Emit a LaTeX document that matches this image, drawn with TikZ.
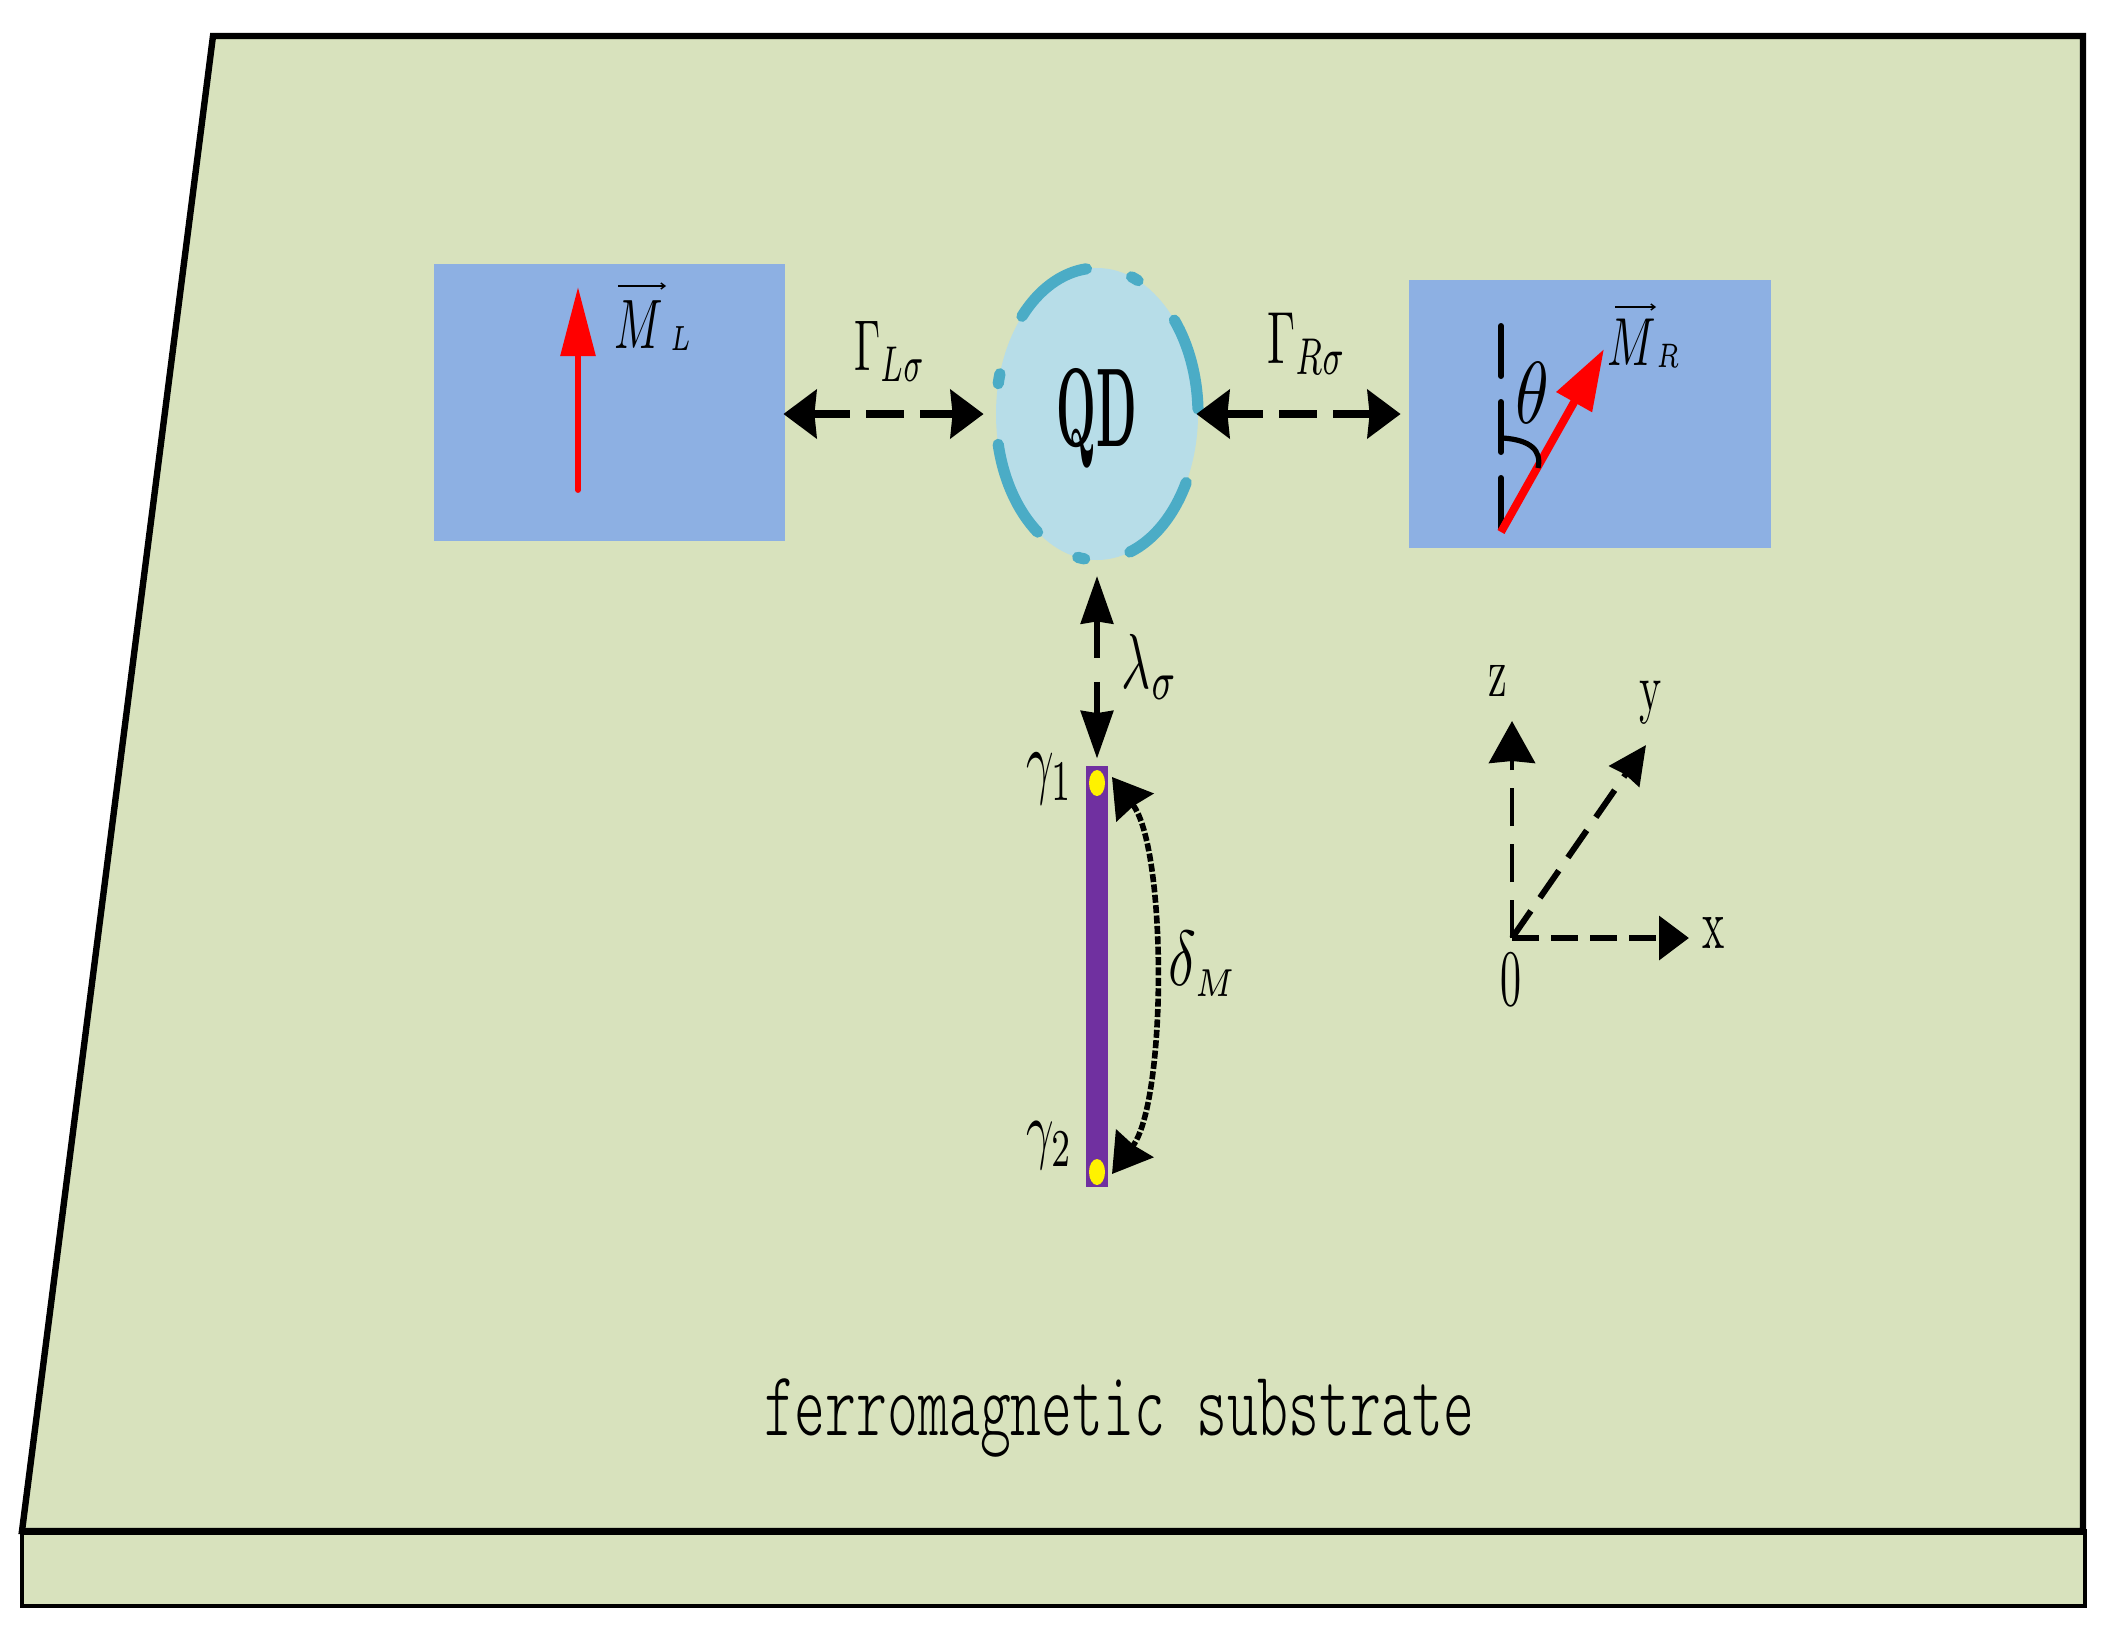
\documentclass[tikz,border=0pt]{standalone}
\usepackage{amsmath}
\usetikzlibrary{arrows.meta,shapes.geometric}
\definecolor{subgreen}{HTML}{D8E2BD}
\definecolor{leadblue}{HTML}{8DB0E3}
\definecolor{qdfill}{HTML}{B7DDE8}
\definecolor{qdring}{HTML}{4BACC6}
\definecolor{barpurple}{HTML}{7030A0}
\newcommand{\lbl}[3]{\scalebox{#1}[#2]{#3}}
\tikzset{
  lbltext/.style={inner sep=0pt,outer sep=0pt,text=black},
  leadbox/.style={rectangle,fill=leadblue,inner sep=0pt},
  ringseg/.style={draw=qdring,line width=5.6pt,line cap=round},
  bigdash/.style={line width=4pt,dash pattern=on 19pt off 8pt,{Stealth[length=16.5pt,width=24pt,inset=1pt]}-{Stealth[length=16.5pt,width=24pt,inset=1pt]}},
  vecbar/.style={line width=0.7pt,-{Straight Barb[length=2pt,width=3pt]}},
  ymark/.style={fill=yellow,inner sep=0pt}
}
\begin{document}
\begin{tikzpicture}[x=0.5pt,y=-0.5pt]
\useasboundingbox (0,0) rectangle (2102,1633);
\fill[white] (0,0) rectangle (2102,1633);
% substrate
\draw[line width=3.2pt,fill=subgreen,line join=miter] (213,36) -- (2083,36) -- (2083,1531) -- (22,1531) -- cycle;
\draw[line width=2pt,fill=subgreen] (21.5,1531) rectangle (2084.5,1606);
\draw[line width=3.5pt] (21,1531.5) -- (2085,1531.5);
% leads
\node[leadbox,minimum width=175.75pt,minimum height=138.5pt] (lbox) at (609.25,402.5) {};
\node[leadbox,minimum width=181.25pt,minimum height=134pt] (rbox) at (1589.75,414) {};
% quantum dot
\node[ellipse,fill=qdfill,inner sep=0pt,minimum width=101pt,minimum height=146pt] (qd) at (1097,414) {};
\foreach \a/\b in {-138/-96,-70/-66,-40/-2,28/71,97/101,126/168,-168/-164}
  \draw[ringseg] ([shift={(\a:101 and 146)}]qd.center) arc[start angle=\a,end angle=\b,x radius=101,y radius=146];
\node[lbltext] (qdl) at (1097,418) {\lbl{2.3}{5.6}{\bfseries QD}};
% horizontal couplings
\draw[bigdash,shorten <=-1pt,shorten >=6pt] (lbox.east |- qd.west) -- (qd.west);
\draw[bigdash,shorten <=-1pt,shorten >=3.75pt] (qd.east) -- (rbox.west |- qd.east);
% left moment
\coordinate (mlfoot) at (578,490);
\coordinate (mlhead) at (578,287);
\draw[red,line width=2.9pt,line cap=round,-{Triangle[length=34.5pt,width=17pt]}] (mlfoot) -- (mlhead);
\node[lbltext] (ml) at (653,326) {\lbl{2.25}{3.5}{$M\kern1.5pt\raisebox{-.3pt}{$\scriptscriptstyle L$}$}};
\coordinate (mlv) at (618,286);
\coordinate (mlw) at (666,286);
\draw[vecbar] (mlv) -- (mlw);
\node[lbltext] (gl) at (890,351) {\lbl{2.1}{3.6}{$\Gamma_{L\sigma}$}};
\node[lbltext] (gr) at (1307,344) {\lbl{2.25}{3.7}{$\Gamma_{R\sigma}$}};
% right moment
\coordinate (mrfoot) at (1501,532);
\coordinate (mrtop) at (1501,326);
\coordinate (mrhead) at (1604,349);
\draw[line width=3pt,line cap=round,dash pattern=on 25pt off 13pt] (mrtop) -- (mrfoot);
\draw[red,line width=4pt,-{Triangle[length=30.5pt,width=19.5pt]}] (mrfoot) -- (mrhead);
\draw[line width=2.6pt] (1503,438) .. controls (1530,440) and (1542,450) .. (1538,468);
\node[lbltext] (th) at (1532,393) {\lbl{3.4}{4.4}{$\theta$}};
\node[lbltext] (mr) at (1643.5,343.5) {\lbl{2.25}{3.4}{$M\raisebox{-.3pt}{$\scriptscriptstyle R$}$}};
\coordinate (mrv) at (1615,307);
\coordinate (mrw) at (1656,307);
\draw[vecbar] (mrv) -- (mrw);
% Majorana wire
\node[rectangle,fill=barpurple,inner sep=0pt,minimum width=11.15pt,minimum height=210.5pt] (bar) at (1097,976.5) {};
\node[ymark,ellipse,minimum width=8pt,minimum height=13pt] (d1) at (1097,783) {};
\node[ymark,ellipse,minimum width=8pt,minimum height=13pt] (d2) at (1097,1172) {};
\draw[line width=3.2pt,dash pattern=on 19pt off 12pt on 40pt,shorten <=7.75pt,shorten >=3.5pt,
  {Stealth[length=23.75pt,width=16pt,inset=1pt]}-{Stealth[length=23.75pt,width=16pt,inset=1pt]}] (qd.south) -- (bar.north);
\coordinate (t1) at (1112,777);
\coordinate (t2) at (1112,1174);
\draw[line width=2.8pt,dash pattern=on 4pt off 1.2pt,
  {Stealth[length=19pt,width=23pt,inset=1pt]}-{Stealth[length=19pt,width=23pt,inset=1pt]}]
  (t1) .. controls (1167,850) and (1167,1100) .. (t2);
\node[lbltext] (ls) at (1150,667) {\lbl{2.5}{3.9}{$\lambda_{\sigma}$}};
\node[lbltext] (g1) at (1050,779) {\lbl{2.4}{4.1}{$\gamma_{1}$}};
\node[lbltext] (g2) at (1050,1146) {\lbl{2.4}{3.8}{$\gamma_{2}$}};
\node[lbltext] (dm) at (1203,964) {\lbl{2.9}{3.9}{$\delta_{\scriptscriptstyle M}$}};
% axes
\coordinate (o) at (1512,938);
\coordinate (zt) at (1512,721);
\coordinate (yt) at (1646,745);
\coordinate (xt) at (1689,938);
\draw[line width=2.2pt,dash pattern=on 19pt off 9pt,-{Stealth[length=21pt,width=23pt,inset=1pt]}] (o) -- (zt);
\draw[line width=3pt,dash pattern=on 16.5pt off 8pt,-{Stealth[length=19pt,width=18pt,inset=1pt]}] (o) -- (yt);
\draw[line width=3.4pt,dash pattern=on 13.5pt off 6pt,-{Triangle[length=15pt,width=21.5pt]}] (o) -- (xt);
\node[lbltext] (zl) at (1498,681) {\lbl{2.1}{3.6}{z}};
\node[lbltext] (yl) at (1651,703) {\lbl{2.1}{3.4}{y}};
\node[lbltext] (xl) at (1714,933) {\lbl{2.1}{3.6}{x}};
\node[lbltext] (zero) at (1511,980) {\lbl{2.1}{4.0}{0}};
% caption
\node[lbltext] (cap) at (1119,1418) {\lbl{2.94}{4.6}{\ttfamily\fontseries{l}\selectfont ferromagnetic substrate}};
\end{tikzpicture}
\end{document}
